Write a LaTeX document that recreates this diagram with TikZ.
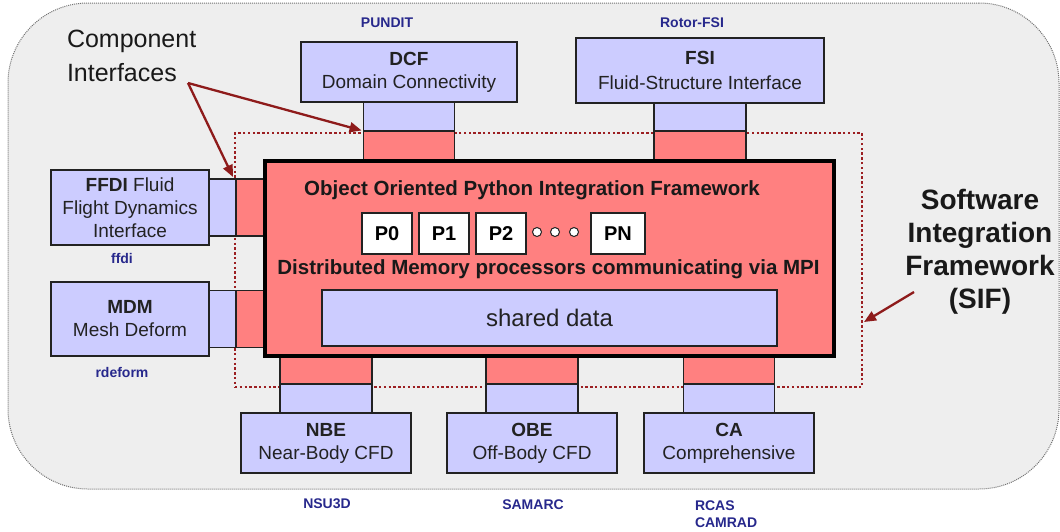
\documentclass[tikz,border=0pt]{standalone}
\usepackage{fontspec}
\setmainfont{Liberation Sans}
\usetikzlibrary{positioning,arrows.meta,shadows}
\definecolor{panelblue}{HTML}{CCCCFF}
\definecolor{fwred}{HTML}{FF8080}
\definecolor{bggrey}{HTML}{EEEEEE}
\definecolor{edgegrey}{HTML}{222222}
\definecolor{arrowred}{HTML}{8E1B1B}
\definecolor{sifred}{HTML}{9B1F22}
\definecolor{codenavy}{HTML}{27288C}
\newcommand{\pxfont}[2]{\fontsize{#1}{#2}\selectfont}

\begin{document}
\begin{tikzpicture}[
    x=1pt, y=-1pt,
    every node/.style={align=center, outer sep=0pt},
    backdrop/.style={draw=black!55, dash pattern=on 1pt off 1pt, line width=1pt,
      fill=bggrey, rounded corners=80pt, inner sep=0pt},
    sifline/.style={draw=sifred, dash pattern=on 2.4pt off 2.4pt, line width=2.5pt, inner sep=0pt},
    panel/.style={draw=edgegrey, line width=1.3pt, fill=panelblue, inner sep=0pt,
      text=edgegrey, font=\pxfont{19}{23}},
    bluepad/.style={draw=edgegrey, line width=1.3pt, fill=panelblue, inner sep=0pt},
    redpad/.style={draw=edgegrey, line width=1.3pt, fill=fwred, inner sep=0pt},
    fwbox/.style={draw=black, line width=4pt, fill=fwred, inner sep=0pt,
      drop shadow={shadow xshift=1.5pt, shadow yshift=-1.5pt, opacity=0.3}},
    fwtitle/.style={font=\pxfont{20.5}{24}\bfseries, text=black!90, inner sep=0pt},
    proc/.style={draw=edgegrey, line width=1.2pt, fill=white, inner sep=0pt,
      minimum width=50pt, minimum height=41pt, font=\pxfont{20}{24}\bfseries},
    dotc/.style={circle, draw=edgegrey, line width=1pt, fill=white, minimum size=9pt, inner sep=0pt},
    code/.style={font=\pxfont{14}{17}\bfseries, text=codenavy, inner sep=0pt},
    callout/.style={font=\pxfont{25}{34}, text=black!90, inner sep=0pt},
    ptr/.style={-{Triangle[length=12pt, width=10pt]}, line width=2.3pt, arrowred}
  ]
  \useasboundingbox (0,0) rectangle (1060,531);

  % ---------- fond et cadre SIF ----------
  \node[backdrop, minimum width=1051pt, minimum height=486pt] (canvas) at (533.5,246) {};
  \node[sifline, minimum width=627pt, minimum height=254pt] (sifzone) at (548.5,260) {};

  % ---------- composants ----------
  \node[panel, minimum width=216pt, minimum height=60pt] (dcf) at (409,72)
    {\textbf{DCF}\\Domain Connectivity};
  \node[panel, minimum width=248pt, minimum height=65pt] (fsi) at (700,70.5)
    {\textbf{FSI}\\[2pt]Fluid-Structure Interface};
  \node[panel, minimum width=158pt, minimum height=75pt] (ffdi) at (130,207.5)
    {\textbf{FFDI} Fluid\\Flight Dynamics\\Interface};
  \node[panel, minimum width=158pt, minimum height=74pt] (mdm) at (130,319)
    {\textbf{MDM}\\Mesh Deform};
  \node[panel, minimum width=170pt, minimum height=60pt] (nbe) at (326,443)
    {\textbf{NBE}\\Near-Body CFD};
  \node[panel, minimum width=170pt, minimum height=60pt] (obe) at (532,443)
    {\textbf{OBE}\\Off-Body CFD};
  \node[panel, minimum width=170pt, minimum height=60pt] (ca) at (729,443)
    {\textbf{CA}\\Comprehensive};

  % ---------- interfaces (bleu cote composant, rouge cote framework) ----------
  \node[bluepad, minimum width=91pt, minimum height=29pt, below=0pt of dcf] (dcfif) {};
  \node[redpad,  minimum width=91pt, minimum height=30pt, below=0pt of dcfif] (dcfred) {};
  \node[bluepad, minimum width=92pt, minimum height=28pt, below=0pt of fsi] (fsiif) {};
  \node[redpad,  minimum width=92pt, minimum height=30pt, below=0pt of fsiif] (fsired) {};
  \node[bluepad, minimum width=27pt, minimum height=57pt, right=0pt of ffdi] (ffdiif) {};
  \node[redpad,  minimum width=29pt, minimum height=57pt, right=0pt of ffdiif] (ffdired) {};
  \node[bluepad, minimum width=27pt, minimum height=57pt, right=0pt of mdm] (mdmif) {};
  \node[redpad,  minimum width=29pt, minimum height=57pt, right=0pt of mdmif] (mdmred) {};
  \node[bluepad, minimum width=92pt, minimum height=29pt, above=0pt of nbe] (nbeif) {};
  \node[redpad,  minimum width=92pt, minimum height=27pt, above=0pt of nbeif] (nbered) {};
  \node[bluepad, minimum width=92pt, minimum height=29pt, above=0pt of obe] (obeif) {};
  \node[redpad,  minimum width=92pt, minimum height=27pt, above=0pt of obeif] (obered) {};
  \node[bluepad, minimum width=91pt, minimum height=29pt, above=0pt of ca] (caif) {};
  \node[redpad,  minimum width=91pt, minimum height=27pt, above=0pt of caif] (cared) {};

  % ---------- framework python ----------
  \node[fwbox, minimum width=569pt, minimum height=195pt] (pyfw) at (549.5,258.5) {};
  \node[fwtitle] (fwname) at (532,190) {Object Oriented Python Integration Framework};
  \node[proc] (p0) at (387,233.5) {P0};
  \node[proc] (p1) at (444,233.5) {P1};
  \node[proc] (p2) at (501,233.5) {P2};
  \node[proc, minimum width=54pt] (pn) at (618,233.5) {PN};
  \node[dotc] (d1) at (537,232) {};
  \node[dotc] (d2) at (555,232) {};
  \node[dotc] (d3) at (574,232) {};
  \node[fwtitle] (mpi) at (548.5,269) {Distributed Memory processors communicating via MPI};
  \node[panel, minimum width=455pt, minimum height=56pt, font=\pxfont{24}{28}] (shared)
    at (549.5,318) {shared data};

  % ---------- codes ----------
  \node[code] (pundit) at (387,23) {PUNDIT};
  \node[code] (rotorfsi) at (692,23) {Rotor-FSI};
  \node[code] (ffdicode) at (122,258) {ffdi};
  \node[code] (rdeform) at (122,372) {rdeform};
  \node[code] (nsu3d) at (327,504) {NSU3D};
  \node[code] (samarc) at (533,505) {SAMARC};
  \node[code, anchor=west, align=left] (rcas) at (695,514) {RCAS\\CAMRAD};

  % ---------- annotations ----------
  \node[callout, anchor=west, align=left] (ci) at (67,56) {Component\\Interfaces};
  \node[callout, font=\pxfont{28}{33}\bfseries] (siftext) at (980,252)
    {Software\\Integration\\Framework\\(SIF)};
  \coordinate (cifork) at (188,83);
  \coordinate (ffdihit) at (233,177);
  \coordinate (sifroot) at (914,292);
  \coordinate (sifhit) at (864,322);
  \draw[ptr, shorten >=2pt] (cifork) -- (dcfred.north west);
  \draw[ptr] (cifork) -- (ffdihit);
  \draw[ptr] (sifroot) -- (sifhit);

\end{tikzpicture}
\end{document}
